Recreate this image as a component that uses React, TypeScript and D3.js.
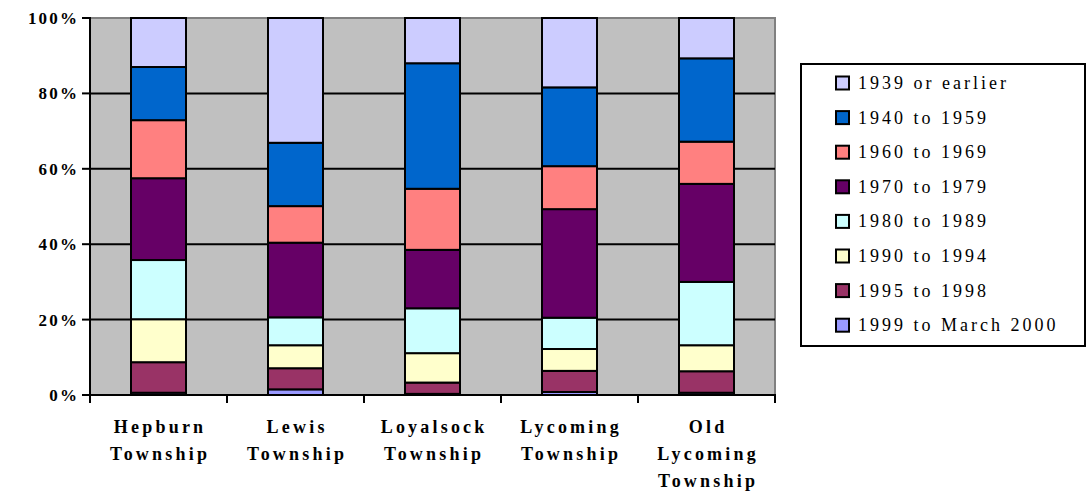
import React from "react";
import * as d3 from "d3";

// Townships along the x axis, each label split into its text lines
const categories = ["Hepburn Township", "Lewis Township", "Loyalsock Township", "Lycoming Township", "Old Lycoming Township"];
const categoryLines = [
  ["Hepburn", "Township"],
  ["Lewis", "Township"],
  ["Loyalsock", "Township"],
  ["Lycoming", "Township"],
  ["Old", "Lycoming", "Township"],
];

// Share of housing units (%) by year built, stacked bottom to top
const series = [
  "1999 to March 2000",
  "1995 to 1998",
  "1990 to 1994",
  "1980 to 1989",
  "1970 to 1979",
  "1960 to 1969",
  "1940 to 1959",
  "1939 or earlier",
];
const v1999 = [0.6, 1.5, 0.3, 0.8, 0.6];
const v1995 = [8.1, 5.6, 3.0, 5.6, 5.7];
const v1990 = [11.4, 6.1, 7.8, 5.8, 6.9];
const v1980 = [15.7, 7.4, 11.9, 8.3, 16.8];
const v1970 = [21.7, 19.8, 15.5, 28.8, 26.0];
const v1960 = [15.4, 9.7, 16.2, 11.4, 11.2];
const v1940 = [14.1, 16.8, 33.3, 20.9, 22.1];
const v1939 = [13.0, 33.1, 12.0, 18.4, 10.7];
const seriesValues = [v1999, v1995, v1990, v1980, v1970, v1960, v1940, v1939];

const seriesColors = ["#9999FF", "#993366", "#FFFFCC", "#CCFFFF", "#660066", "#FF8080", "#0066CC", "#CCCCFF"];

const yTicks = [0, 20, 40, 60, 80, 100];

// Legend lists the series top-down (reverse of stacking order)
const legendOrder = [7, 6, 5, 4, 3, 2, 1, 0];

const W = 1087;
const H = 495;
const plot = { left: 90, right: 775, top: 18, bottom: 395 };
const barWidth = 55;
const FONT = "Liberation Serif";

// per-character gap list for the dx attribute (spreads the glyphs apart)
const spread = (s: string, gap: number) =>
  Array.from(s)
    .map((_, i) => (i === 0 ? 0 : gap))
    .join(" ");

export default function App() {
  const rows = categories.map((c, i) => {
    const r: Record<string, number | string> = { category: c };
    series.forEach((s, k) => (r[s] = seriesValues[k][i]));
    return r;
  });
  const stacked = d3.stack<Record<string, number | string>>().keys(series)(rows as any);

  const x = d3.scaleBand<string>().domain(categories).range([plot.left, plot.right]).padding(0);
  const y = d3.scaleLinear().domain([0, 100]).range([plot.bottom, plot.top]);
  const cx = (c: string) => (x(c) as number) + x.bandwidth() / 2;

  const tickXs = [...categories.map((c) => x(c) as number), plot.right];

  return (
    <svg width={W} height={H} style={{ position: "absolute", left: 0, top: 0, background: "#fff" }}>
      {/* plot background */}
      <rect x={plot.left} y={plot.top} width={plot.right - plot.left} height={plot.bottom - plot.top} fill="#C0C0C0" />
      {/* top and right frame */}
      <path
        d={`M${plot.left},${plot.top}H${plot.right}V${plot.bottom}`}
        fill="none"
        stroke="#808080"
        strokeWidth={2}
      />
      {/* gridlines */}
      {yTicks
        .filter((t) => t > 0 && t < 100)
        .map((t) => (
          <line key={t} x1={plot.left} x2={plot.right} y1={y(t)} y2={y(t)} stroke="#000" strokeWidth={2} />
        ))}

      {/* stacked bars */}
      {stacked.map((layer, k) => (
        <g key={series[k]}>
          {layer.map((d, i) => (
            <rect
              key={i}
              x={cx(categories[i]) - barWidth / 2}
              y={y(d[1])}
              width={barWidth}
              height={Math.max(0, y(d[0]) - y(d[1]))}
              fill={seriesColors[k]}
              stroke="#000"
              strokeWidth={2}
            />
          ))}
        </g>
      ))}

      {/* y axis */}
      <line x1={plot.left} x2={plot.left} y1={plot.top - 1} y2={plot.bottom + 1} stroke="#000" strokeWidth={2} />
      {yTicks.map((t) => {
        const label = `${t}%`;
        return (
          <g key={t}>
            <line x1={plot.left - 8} x2={plot.left} y1={y(t)} y2={y(t)} stroke="#000" strokeWidth={2} />
            <text
              x={77}
              y={y(t) + 6}
              dx={spread(label, 2.2)}
              textAnchor="end"
              style={{ fontFamily: FONT, fontWeight: 700, fontSize: 17 }}
            >
              {label}
            </text>
          </g>
        );
      })}

      {/* x axis */}
      <line x1={plot.left - 1} x2={plot.right + 1} y1={plot.bottom} y2={plot.bottom} stroke="#000" strokeWidth={2} />
      {tickXs.map((tx, i) => (
        <line key={i} x1={tx} x2={tx} y1={plot.bottom} y2={plot.bottom + 8} stroke="#000" strokeWidth={2} />
      ))}
      {categories.map((c, i) =>
        categoryLines[i].map((line, j) => (
          <text
            key={`${c}-${j}`}
            x={cx(c)}
            y={433 + j * 27}
            dx={spread(line, 3.2)}
            textAnchor="middle"
            style={{ fontFamily: FONT, fontWeight: 700, fontSize: 18 }}
          >
            {line}
          </text>
        ))
      )}

      {/* legend */}
      <rect x={801} y={64} width={284} height={282} fill="#fff" stroke="#000" strokeWidth={2} />
      {legendOrder.map((k, i) => {
        const ry = 83 + i * 34.6;
        return (
          <g key={series[k]}>
            <rect x={836} y={ry - 6.5} width={13} height={13} fill={seriesColors[k]} stroke="#000" strokeWidth={2} />
            <text x={858} y={ry + 6} letterSpacing={3} style={{ fontFamily: FONT, fontSize: 18 }}>
              {series[k]}
            </text>
          </g>
        );
      })}
    </svg>
  );
}
